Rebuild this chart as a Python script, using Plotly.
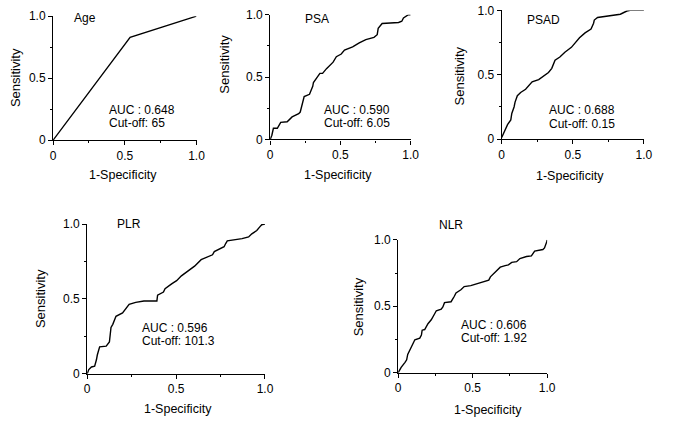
import plotly.graph_objects as go

W, H = 677, 425

# ---------------- data ----------------
age_fpr = [0.0, 0.537, 1.0]
age_tpr = [0.0, 0.83, 1.0]

psa_fpr = [0.0, 0.012, 0.023, 0.051, 0.075, 0.121, 0.156, 0.203, 0.214, 0.226, 0.242, 0.280,
           0.303, 0.308, 0.331, 0.354, 0.373, 0.401, 0.448, 0.471, 0.506, 0.529, 0.587, 0.634,
           0.681, 0.739, 0.762, 0.769, 0.797, 0.867, 0.914, 0.937, 0.949, 0.984, 1.0]
psa_tpr = [0.0, 0.034, 0.090, 0.090, 0.137, 0.142, 0.181, 0.207, 0.220, 0.284, 0.344, 0.362,
           0.426, 0.457, 0.491, 0.530, 0.530, 0.568, 0.620, 0.664, 0.685, 0.716, 0.742, 0.775,
           0.801, 0.819, 0.840, 0.891, 0.930, 0.938, 0.938, 0.948, 0.974, 1.0, 1.0]

psad_fpr = [0.0, 0.011, 0.030, 0.041, 0.064, 0.071, 0.087, 0.094, 0.110, 0.133, 0.168, 0.191,
            0.214, 0.260, 0.294, 0.329, 0.352, 0.375, 0.409, 0.444, 0.490, 0.513, 0.547, 0.586,
            0.628, 0.646, 0.651, 0.674, 0.743, 0.834, 0.880, 0.903, 1.0]
psad_tpr = [0.0125, 0.038, 0.075, 0.113, 0.150, 0.200, 0.250, 0.288, 0.338, 0.363, 0.388, 0.413,
            0.445, 0.463, 0.488, 0.518, 0.550, 0.613, 0.638, 0.675, 0.713, 0.745, 0.788, 0.825,
            0.855, 0.900, 0.925, 0.945, 0.955, 0.970, 0.995, 1.0, 1.0]

plr_fpr = [0.0, 0.009, 0.024, 0.042, 0.052, 0.057, 0.070, 0.107, 0.125, 0.134, 0.144, 0.162,
           0.199, 0.217, 0.236, 0.273, 0.319, 0.392, 0.396, 0.429, 0.438, 0.475, 0.503, 0.530,
           0.558, 0.604, 0.641, 0.687, 0.705, 0.715, 0.770, 0.779, 0.788, 0.871, 0.908, 0.926,
           0.954, 0.972, 0.982, 1.0]
plr_tpr = [0.0, 0.028, 0.045, 0.050, 0.093, 0.125, 0.179, 0.184, 0.212, 0.309, 0.330, 0.384,
           0.406, 0.438, 0.464, 0.477, 0.486, 0.486, 0.525, 0.546, 0.568, 0.600, 0.622, 0.654,
           0.680, 0.719, 0.762, 0.784, 0.795, 0.816, 0.849, 0.870, 0.888, 0.903, 0.914, 0.935,
           0.957, 0.983, 0.996, 1.0]

nlr_fpr = [0.0, 0.007, 0.020, 0.046, 0.057, 0.064, 0.086, 0.095, 0.112, 0.145, 0.156, 0.161,
           0.178, 0.200, 0.222, 0.244, 0.256, 0.289, 0.300, 0.311, 0.355, 0.377, 0.388, 0.421,
           0.443, 0.487, 0.531, 0.575, 0.608, 0.619, 0.641, 0.685, 0.718, 0.740, 0.762, 0.795,
           0.817, 0.861, 0.894, 0.916, 0.971, 0.982, 0.998, 1.0]
nlr_tpr = [0.0, 0.017, 0.041, 0.078, 0.097, 0.138, 0.187, 0.211, 0.248, 0.260, 0.284, 0.320,
           0.325, 0.369, 0.398, 0.442, 0.466, 0.478, 0.495, 0.527, 0.534, 0.575, 0.600, 0.624,
           0.648, 0.655, 0.672, 0.684, 0.697, 0.721, 0.745, 0.794, 0.806, 0.811, 0.830, 0.835,
           0.859, 0.874, 0.879, 0.915, 0.927, 0.939, 0.988, 1.0]

panel_names = ["Age", "PSA", "PSAD", "PLR", "NLR"]
auc_values = ["0.648", "0.590", "0.688", "0.596", "0.606"]
cutoffs = ["65", "6.05", "0.15", "101.3", "1.92"]
tick_vals = [0, 0.5, 1.0]
tick_text = ["0", "0.5", "1.0"]

series = [(age_fpr, age_tpr), (psa_fpr, psa_tpr), (psad_fpr, psad_tpr),
          (plr_fpr, plr_tpr), (nlr_fpr, nlr_tpr)]

# ---------------- layout (pixel boxes) ----------------
boxes = [(51, 197, 9.5, 137.7),
         (272, 415, 8, 137),
         (507.7, 652.5, 3.5, 136.7),
         (85.7, 266.7, 224.5, 379.2),
         (402.3, 554, 240.7, 378.2)]

name_pos = [(70, 11), (305, 12), (531, 13), (114, 224), (441.5, 225.3)]
auc_pos = [(106, 106.5, 120), (325, 106, 119.5), (554, 107, 120.5),
           (139.3, 331.5, 345), (464, 328.5, 342)]
xt_pos = [(122, 174), (341, 174), (577, 175), (178.3, 416), (493.3, 416.7)]
yt_pos = [(12.7, 73), (224.7, 59), (464.3, 71.7), (37.7, 302), (362, 310)]

FONT = "Liberation Sans, Arial, sans-serif"

def px(x):
    return x / W

def py(y):
    return 1 - y / H

fig = go.Figure()
annotations = []
for i, ((xs, ys), (x0, x1, yt, yb)) in enumerate(zip(series, boxes)):
    n = "" if i == 0 else str(i + 1)
    fig.add_trace(go.Scatter(x=xs, y=ys, mode="lines",
                             line=dict(color="black", width=1.4),
                             cliponaxis=False, showlegend=False,
                             xaxis="x" + n, yaxis="y" + n, hoverinfo="skip"))
    axcommon = dict(range=[0, 1], showgrid=False, zeroline=False, showline=True,
                    linecolor="black", linewidth=1.2, ticks="outside", ticklen=4,
                    tickwidth=1, tickcolor="black", tickvals=tick_vals, ticktext=tick_text,
                    tickfont=dict(family=FONT, size=12, color="black"),
                    minor=dict(tickvals=[0.25, 0.75], ticks="outside", ticklen=2,
                               tickcolor="black", tickwidth=1),
                    fixedrange=True)
    fig.update_layout(**{
        "xaxis" + n: dict(domain=[px(x0), px(x1)], anchor="y" + n, **axcommon),
        "yaxis" + n: dict(domain=[py(yb), py(yt)], anchor="x" + n, **axcommon),
    })
    nx, ny = name_pos[i]
    annotations.append(dict(text=panel_names[i], x=px(nx), y=py(ny), xref="paper", yref="paper",
                            xanchor="left", yanchor="middle", showarrow=False,
                            font=dict(family=FONT, size=12, color="black")))
    ax, ay1, ay2 = auc_pos[i]
    annotations.append(dict(text="AUC : " + auc_values[i], x=px(ax), y=py(ay1), xref="paper",
                            yref="paper", xanchor="left", yanchor="middle", showarrow=False,
                            font=dict(family=FONT, size=12, color="black")))
    annotations.append(dict(text="Cut-off: " + cutoffs[i], x=px(ax), y=py(ay2), xref="paper",
                            yref="paper", xanchor="left", yanchor="middle", showarrow=False,
                            font=dict(family=FONT, size=12, color="black")))
    tx, ty = xt_pos[i]
    annotations.append(dict(text="1-Specificity", x=px(tx), y=py(ty), xref="paper", yref="paper",
                            xanchor="center", yanchor="middle", showarrow=False,
                            font=dict(family=FONT, size=12.5, color="black")))
    sx, sy = yt_pos[i]
    annotations.append(dict(text="Sensitivity", x=px(sx), y=py(sy), xref="paper", yref="paper",
                            xanchor="center", yanchor="middle", showarrow=False, textangle=-90,
                            font=dict(family=FONT, size=13, color="black")))

fig.update_layout(width=W, height=H, margin=dict(l=0, r=0, t=0, b=0),
                  paper_bgcolor="white", plot_bgcolor="white",
                  annotations=annotations, showlegend=False)

fig.write_html("out.html", config={"displayModeBar": False},
               post_script="document.body.style.margin='0';document.body.style.overflow='hidden';")
